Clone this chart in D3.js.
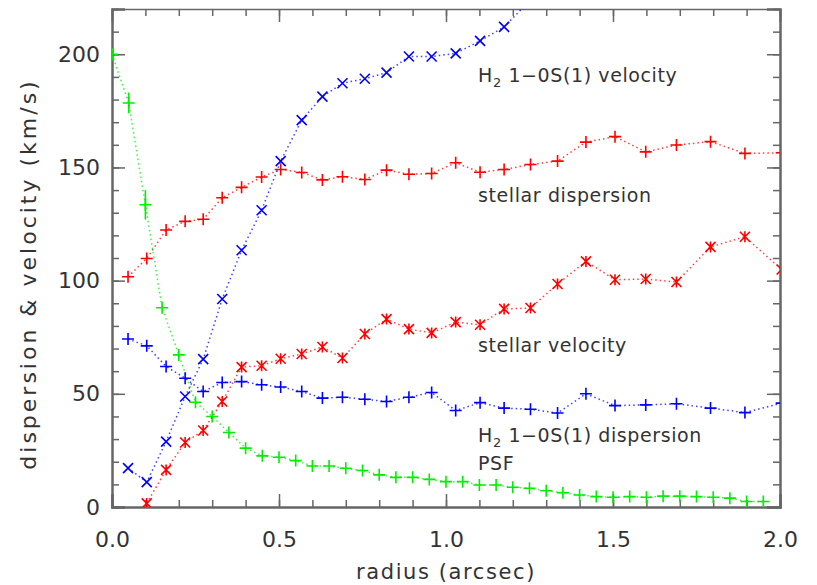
<!DOCTYPE html>
<html lang="en">
<head>
  <meta charset="UTF-8">
  <title>Dispersion and velocity profiles</title>
  <script src="https://d3js.org/d3.v7.min.js"></script>
  <style>
    body { margin: 0; background: #fff; font-family: "DejaVu Sans", sans-serif; }
    svg { display: block; }
    .axis path, .axis line { stroke: #666; }
    .axis text { fill: #333; font-size: 22px; font-family: "DejaVu Sans", sans-serif; }
    .lbl { fill: #333; font-size: 19px; letter-spacing: 0.6px; }
  </style>
</head>
<body>
  <script>
    // radii (arcsec) shared by the stellar and H2 measurements
    const radii = [0.048, 0.104, 0.162, 0.219, 0.273, 0.33, 0.388, 0.448, 0.505, 0.568,
                   0.63, 0.69, 0.757, 0.822, 0.889, 0.957, 1.029, 1.102, 1.174, 1.253,
                   1.334, 1.419, 1.506, 1.598, 1.69, 1.792, 1.895, 2.005];
    const stellarDisp = [101.7, 109.8, 122.4, 126.2, 127.1, 136.6, 141.2, 145.8, 149.1, 147.8,
                         144.5, 145.9, 144.7, 148.8, 147, 147.3, 152.1, 147.9, 149.1, 151.3,
                         152.8, 161.2, 163.6, 156.9, 159.9, 161.4, 156.2, 156.5];
    const stellarVel = [null, 1.6, 16.4, 28.5, 33.8, 46.6, 61.8, 62.4, 65.5, 67.6,
                        70.7, 65.8, 76.4, 83, 78.6, 76.9, 81.7, 80.5, 87.5, 87.9,
                        98.5, 108.5, 100.4, 100.7, 99.4, 114.9, 119.4, 104.9];
    const h2Vel = [17.2, 11, 28.9, 48.8, 65.3, 91.9, 113.4, 131.1, 152.8, 170.9,
                   181.3, 187.2, 189.2, 191.9, 199, 199, 200.4, 205.9, 212.1, 224];
    const h2Disp = [74.2, 71.2, 62.1, 56.9, 51, 55, 55.4, 54, 53, 51,
                    48.1, 48.5, 47.6, 46.6, 48.5, 50.6, 42.6, 46.1, 43.7, 43.2,
                    41.5, 50, 44.8, 45.1, 45.6, 43.7, 41.7, 45.9];

    const psfRadii = [0, 0.05, 0.1, 0.15, 0.2, 0.25, 0.3, 0.35, 0.4, 0.45,
                      0.5, 0.55, 0.6, 0.65, 0.7, 0.75, 0.8, 0.85, 0.9, 0.95,
                      1.0, 1.05, 1.1, 1.15, 1.2, 1.25, 1.3, 1.35, 1.4, 1.45,
                      1.5, 1.55, 1.6, 1.65, 1.7, 1.75, 1.8, 1.85, 1.9, 1.95];
    const psf = [200, 178.5, 133.5, 88, 67.2, 46.3, 40, 32.9, 26, 22.6,
                 22, 20.5, 18.1, 18.1, 17.1, 16.1, 14.2, 13.1, 13.1, 12.2,
                 11.2, 11.2, 9.7, 9.7, 8.7, 8.3, 7.2, 6.3, 5.3, 4.6,
                 4.3, 4.6, 4.3, 4.8, 4.8, 4.6, 4.3, 3.9, 2.4, 2.4];
    const psfErr = [2.7, 4.6, 6.5];

    const xTicks = [0, 0.5, 1.0, 1.5, 2.0];
    const yTicks = [0, 50, 100, 150, 200];

    const W = 817, H = 585;
    const m = { left: 112, right: 37, top: 9, bottom: 78 };

    const x = d3.scaleLinear().domain([0, 2]).range([m.left, W - m.right]);
    const y = d3.scaleLinear().domain([0, 220]).range([H - m.bottom, m.top]);

    const svg = d3.select("body").append("svg")
      .attr("width", W).attr("height", H);

    svg.append("clipPath").attr("id", "plot")
      .append("rect")
      .attr("x", m.left).attr("y", m.top)
      .attr("width", x.range()[1] - m.left)
      .attr("height", y.range()[0] - m.top);

    // axes with inward ticks on all four sides
    const minorX = d3.range(0, 2.001, 0.1);
    const minorY = d3.range(0, 221, 10);

    function addAxis(axisFn, scale, major, minor, transform, pad, fmt) {
      const g = svg.append("g").attr("class", "axis").attr("transform", transform);
      g.call(axisFn(scale).tickValues(minor).tickSize(-7).tickFormat(""));
      g.selectAll("path").remove();
      const g2 = svg.append("g").attr("class", "axis").attr("transform", transform);
      g2.call(axisFn(scale).tickValues(major).tickSize(-13)
        .tickPadding(pad).tickFormat(fmt || ""));
      g2.select("path").attr("stroke-width", 2.5);
      g2.selectAll("line").attr("stroke-width", 1.5);
      g.selectAll("line").attr("stroke-width", 1.5);
      return g2;
    }

    const bottom = y.range()[0];
    const right = x.range()[1];
    addAxis(d3.axisBottom, x, xTicks, minorX, `translate(0,${bottom})`, 24, d3.format(".1f"));
    addAxis(d3.axisTop, x, xTicks, minorX, `translate(0,${m.top})`, 0)
      .select("path").attr("stroke", "#111").attr("stroke-width", 1.5);
    addAxis(d3.axisLeft, y, yTicks, minorY, `translate(${m.left},0)`, 12, d3.format("d"));
    addAxis(d3.axisRight, y, yTicks, minorY, `translate(${right},0)`, 0);

    // axis titles
    svg.append("text").attr("class", "lbl")
      .attr("x", (m.left + right) / 2).attr("y", 579)
      .attr("text-anchor", "middle")
      .style("font-size", "21px").style("letter-spacing", "1.6px")
      .text("radius (arcsec)");
    svg.append("text").attr("class", "lbl")
      .attr("transform", `translate(36,${(m.top + bottom) / 2 + 16}) rotate(-90)`)
      .attr("text-anchor", "middle")
      .style("font-size", "22px").style("letter-spacing", "3px")
      .text("dispersion & velocity (km/s)");

    // markers
    const symPath = {
      plus: s => `M${-s},0H${s}M0,${-s}V${s}`,
      cross: s => `M${-s},${-s}L${s},${s}M${-s},${s}L${s},${-s}`,
      star: s => `M${-s},${-s}L${s},${s}M${-s},${s}L${s},${-s}M0,${-s * 1.1}V${s * 1.1}`
    };

    const plot = svg.append("g").attr("clip-path", "url(#plot)");

    function series(xs, ys, color, sym, size) {
      const pts = xs.map((r, i) => [r, ys[i]]).filter(d => d[1] != null);
      plot.append("path")
        .datum(pts)
        .attr("fill", "none")
        .attr("stroke", color)
        .attr("stroke-opacity", 0.75)
        .attr("stroke-width", 1.5)
        .attr("stroke-dasharray", "1.5,3")
        .attr("d", d3.line().x(d => x(d[0])).y(d => y(d[1])));
      plot.selectAll(null)
        .data(pts)
        .join("path")
        .attr("transform", d => `translate(${x(d[0])},${y(d[1])})`)
        .attr("d", symPath[sym](size))
        .attr("fill", "none")
        .attr("stroke", color)
        .attr("stroke-width", 1.6);
    }

    series(psfRadii, psf, "#00ee00", "plus", 6);
    series(radii, stellarDisp, "#ff0000", "plus", 6);
    series(radii, stellarVel, "#ff0000", "star", 5);
    series(radii, h2Vel, "#0000ff", "cross", 5);
    series(radii, h2Disp, "#0000ff", "plus", 6);

    // PSF error bars near the centre
    plot.selectAll(null)
      .data(psfErr)
      .join("line")
      .attr("x1", (e, i) => x(psfRadii[i])).attr("x2", (e, i) => x(psfRadii[i]))
      .attr("y1", (e, i) => y(psf[i] - e)).attr("y2", (e, i) => y(psf[i] + e))
      .attr("stroke", "#00ee00").attr("stroke-width", 1.6);

    // in-plot labels
    const lx = 478;
    const h2 = (t, yb) => {
      const el = svg.append("text").attr("class", "lbl").attr("x", lx).attr("y", yb);
      el.append("tspan").text("H");
      el.append("tspan").attr("dy", 5).style("font-size", "13px").text("2");
      el.append("tspan").attr("dy", -5).text("\u00a01\u22120S(1)\u00a0" + t);
    };
    h2("velocity", 82);
    svg.append("text").attr("class", "lbl").attr("x", lx).attr("y", 202).text("stellar dispersion");
    svg.append("text").attr("class", "lbl").attr("x", lx).attr("y", 352).text("stellar velocity");
    h2("dispersion", 442);
    svg.append("text").attr("class", "lbl").attr("x", lx).attr("y", 470).text("PSF");
  </script>
</body>
</html>
